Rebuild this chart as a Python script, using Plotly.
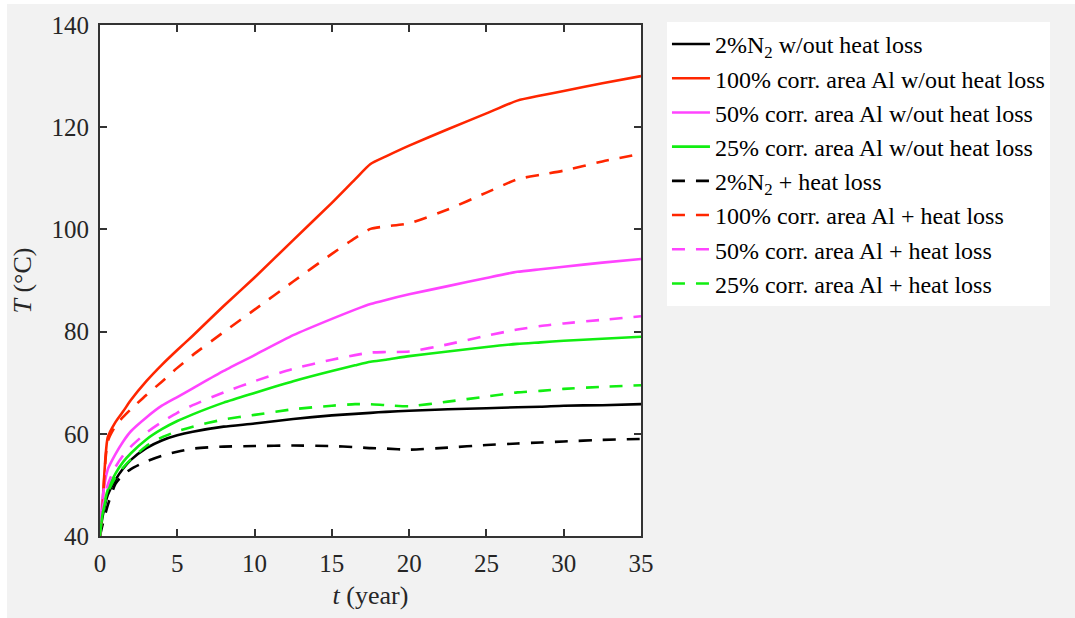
import plotly.graph_objects as go

# Time axis (years) shared by all temperature series
t_year = [0, 0.15, 0.5, 1, 1.5, 2, 3, 4, 5, 6, 8, 10, 12.5, 15, 16.5, 17.5,
          18.5, 20, 22.5, 25, 27, 28.5, 30, 32.5, 35]

# Temperatures (°C) without heat loss
n2_noloss = [40, 43.5, 48, 51, 53.2, 54.9, 57.2, 58.7, 59.7, 60.4, 61.4, 62, 62.9,
             63.6, 63.9, 64.1, 64.3, 64.5, 64.8, 65, 65.2, 65.3, 65.5, 65.6, 65.8]
al100_noloss = [40, 45.5, 59.3, 62.3, 64.4, 66.6, 70.3, 73.5, 76.4, 79.2, 85, 90.6, 97.9,
                105.2, 109.8, 112.8, 114.3, 116.4, 119.6, 122.7, 125.2, 126.2, 127.1,
                128.6, 130]
al50_noloss = [40, 47, 53, 56, 58.5, 60.5, 63.2, 65.5, 67.2, 68.9, 72.3, 75.4, 79.3, 82.5,
               84.3, 85.4, 86.2, 87.3, 88.9, 90.5, 91.7, 92.2, 92.7, 93.5, 94.2]
al25_noloss = [40, 44, 49, 52.2, 54.5, 56.2, 58.9, 60.9, 62.5, 63.8, 66.1, 68, 70.3,
               72.3, 73.4, 74.1, 74.5, 75.2, 76.1, 77, 77.6, 77.9, 78.2, 78.6, 79]

# Temperatures (°C) with heat loss
n2_loss = [40, 42, 46, 50.2, 52, 53.1, 54.6, 55.7, 56.5, 57.1, 57.5, 57.6, 57.7, 57.6,
           57.4, 57.2, 57.1, 56.9, 57.3, 57.8, 58.1, 58.3, 58.5, 58.8, 59]
al100_loss = [40, 45, 58.5, 61.5, 63.3, 64.8, 67.6, 70.2, 72.9, 75.4, 79.9, 84.3, 89.8,
              95.2, 98.3, 100.1, 100.6, 101.2, 103.9, 107.2, 109.8, 110.7, 111.5,
              113.3, 114.8]
al50_loss = [40, 45, 50, 53.5, 55.8, 57.5, 60.2, 62.3, 64.1, 65.6, 68.1, 70.3, 72.7,
             74.5, 75.4, 75.9, 76, 76.1, 77.5, 79.2, 80.4, 81.1, 81.6, 82.3, 83]
al25_loss = [40, 44, 48.5, 51.5, 53.4, 55, 57.6, 59.3, 60.5, 61.4, 62.8, 63.7, 64.8,
             65.5, 65.8, 65.8, 65.6, 65.4, 66.3, 67.3, 68.1, 68.4, 68.8, 69.2, 69.5]

DASHED = "13px,11px"
series = [
    ("2%N<sub>2</sub> w/out heat loss", n2_noloss, "#000000", "solid"),
    ("100% corr. area Al w/out heat loss", al100_noloss, "#ff2600", "solid"),
    ("50% corr. area Al w/out heat loss", al50_noloss, "#ff44ff", "solid"),
    ("25% corr. area Al w/out heat loss", al25_noloss, "#11ee11", "solid"),
    ("2%N<sub>2</sub> + heat loss", n2_loss, "#000000", DASHED),
    ("100% corr. area Al + heat loss", al100_loss, "#ff2600", DASHED),
    ("50% corr. area Al + heat loss", al50_loss, "#ff44ff", DASHED),
    ("25% corr. area Al + heat loss", al25_loss, "#11ee11", DASHED),
]

x_ticks = [0, 5, 10, 15, 20, 25, 30, 35]
y_ticks = [40, 60, 80, 100, 120, 140]

SERIF = "Liberation Serif"

fig = go.Figure()
for name, vals, color, dash in series:
    fig.add_trace(go.Scatter(
        x=t_year, y=vals, mode="lines", name=name,
        line=dict(color=color, width=2.6, dash=dash, shape="spline", smoothing=0.6),
    ))

axis_common = dict(
    showline=True, linewidth=2, linecolor="#333333", mirror="ticks",
    ticks="inside", ticklen=7, tickwidth=2, tickcolor="#333333",
    showgrid=False, zeroline=False,
    tickfont=dict(family=SERIF, size=25, color="#262626"),
)

fig.update_xaxes(range=[0, 35], tickvals=x_ticks, ticklabelstandoff=4,
                 title=dict(text="<i>t</i> (year)", standoff=10,
                            font=dict(family=SERIF, size=26, color="#262626")),
                 **axis_common)
fig.update_yaxes(range=[40, 140], tickvals=y_ticks, ticklabelstandoff=4,
                 title=dict(text="<i>T</i> (°C)", standoff=12,
                            font=dict(family=SERIF, size=26, color="#262626")),
                 **axis_common)

fig.update_layout(
    width=1075, height=618,
    margin=dict(l=100, r=434, t=25, b=82),
    paper_bgcolor="#f2f2f2", plot_bgcolor="#ffffff",
    showlegend=True,
    legend=dict(
        x=1.048, y=1.006, xanchor="left", yanchor="top",
        bgcolor="#ffffff", borderwidth=0, itemwidth=38,
        font=dict(family=SERIF, size=24, color="#000000"),
        traceorder="normal",
    ),
    shapes=[
        dict(type="rect", xref="paper", yref="paper", layer="below",
             x0=-0.2, x1=-0.1719, y0=-0.2, y1=1.1, fillcolor="#ffffff", line_width=0),
        dict(type="rect", xref="paper", yref="paper", layer="below",
             x0=-0.2, x1=1.9, y0=1.041, y1=1.1, fillcolor="#ffffff", line_width=0),
    ],
)

fig.write_html("out.html")
